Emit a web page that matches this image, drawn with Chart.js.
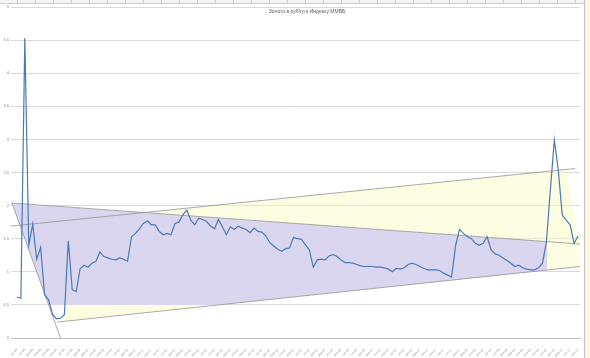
<!DOCTYPE html>
<html>
<head>
<meta charset="utf-8">
<script src="https://cdn.jsdelivr.net/npm/chart.js@4.4.1/dist/chart.umd.min.js"></script>
<style>
html,body{margin:0;padding:0;background:#fff;}
#wrap{position:relative;width:590px;height:358px;overflow:hidden;background:#fff;}
canvas{position:absolute;left:0;top:0;}
#topbar{position:absolute;left:0;top:0;width:590px;height:3px;background:#f4f4f4;border-bottom:1px solid #cfcfcf;
  background-image:repeating-linear-gradient(90deg,transparent 0 17px,#c9c9c9 17px 18px);}
#rightbar{position:absolute;left:584px;top:0;width:6px;height:358px;background:#fbf6dc;border-left:1px solid #c4c4c4;}
</style>
</head>
<body>
<div id="wrap">
<canvas id="c" width="590" height="358"></canvas>
<div id="topbar"></div>
<div id="rightbar"></div>
</div>
<script>
// ---- data ----
const chartTitle = 'Золото в руб/гр к Индексу ММВБ';
const monthNames = ['янв','фев','мар','апр','май','июн','июл','авг','сен','окт','ноя','дек'];
const startYear = 1998, startMonth = 6; // first category: июл.98
const ratio = [
  0.62,0.60,4.53,1.40,1.72,1.19,1.37,0.65,0.58,0.36,
  0.29,0.30,0.35,1.47,0.73,0.70,1.05,1.10,1.07,1.13,
  1.16,1.30,1.23,1.21,1.19,1.18,1.21,1.19,1.16,1.53,
  1.58,1.65,1.73,1.77,1.71,1.71,1.61,1.56,1.58,1.56,
  1.73,1.75,1.86,1.93,1.78,1.71,1.81,1.79,1.76,1.69,
  1.65,1.79,1.68,1.56,1.68,1.64,1.69,1.66,1.64,1.59,
  1.66,1.61,1.60,1.54,1.44,1.39,1.34,1.31,1.35,1.36,
  1.52,1.50,1.49,1.41,1.33,1.07,1.18,1.19,1.18,1.24,
  1.26,1.23,1.18,1.14,1.14,1.13,1.11,1.09,1.08,1.08,
  1.08,1.07,1.07,1.06,1.04,1.00,1.05,1.04,1.06,1.11,
  1.13,1.11,1.08,1.05,1.03,1.03,1.03,1.02,0.98,0.95,
  0.92,1.39,1.64,1.58,1.53,1.50,1.43,1.40,1.43,1.53,
  1.33,1.27,1.25,1.21,1.17,1.13,1.08,1.10,1.06,1.04,
  1.03,1.03,1.06,1.13,1.45,2.24,2.99,2.54,1.86,1.78,
  1.71,1.43,1.54
];
// trend lines drawn by hand on the original (x = category index)
const upperTrend    = [{x:-0.5,y:1.69},{x:142.25,y:2.56}];
const channelTop    = [{x:-0.5,y:2.04},{x:143.5,y:1.42}];
const channelBottom = [{x:11.14,y:0.24},{x:143.5,y:1.08}];
const steepLine     = [{x:-0.25,y:2.04},{x:12.03,y:0}];
// shaded zones
const purpleZone = [{x:-0.25,y:2.036},{x:135.16,y:1.456},{x:135.16,y:1.024},{x:51.74,y:0.5},{x:9.04,y:0.5}];
const yellowLow  = [{x:13.17,y:0.5},{x:51.74,y:0.5},{x:13.17,y:0.254}];
const yellowHigh = [{x:32.76,y:1.894},{x:139.97,y:2.549},{x:141.5,y:2.006},{x:143.5,y:1.420},{x:143.5,y:1.077},{x:135.16,y:1.024},{x:135.16,y:1.456}];

const categories = [];
for (let i = 0; i < ratio.length + 1; i++) {
  const t = startMonth + i;
  const y = startYear + Math.floor(t / 12);
  categories.push(monthNames[t % 12] + '.' + String(y % 100).padStart(2, '0'));
}
const lineValues = [null].concat(ratio);

const titlePlugin = {
  id: 'overlayTitle',
  afterDatasetsDraw(chart) {
    const c = chart.ctx;
    c.save();
    c.font = '5px "Liberation Sans", Arial, sans-serif';
    c.fillStyle = '#595959';
    c.textAlign = 'center';
    c.textBaseline = 'middle';
    c.fillText(chartTitle, 307, 12);
    c.restore();
  }
};

const trendStyle = {xAxisID:'x2', borderColor:'#8f8f8f', borderWidth:0.75, pointRadius:0, fill:false, tension:0};
const zoneStyle = {xAxisID:'x2', borderWidth:0, borderColor:'rgba(0,0,0,0)', pointRadius:0, tension:0, fill:'shape'};

new Chart(document.getElementById('c').getContext('2d'), {
  type: 'line',
  data: {
    labels: categories,
    datasets: [
      {label:'ratio', data:lineValues, xAxisID:'x', borderColor:'#4a7ab5', borderWidth:1.2, pointRadius:0, fill:false, tension:0},
      Object.assign({data:upperTrend}, trendStyle),
      Object.assign({data:channelTop}, trendStyle),
      Object.assign({data:channelBottom}, trendStyle),
      Object.assign({data:steepLine}, trendStyle),
      Object.assign({data:purpleZone, backgroundColor:'#dbd6ef'}, zoneStyle),
      Object.assign({data:yellowLow, backgroundColor:'rgba(250,250,190,0.45)'}, zoneStyle),
      Object.assign({data:yellowHigh, backgroundColor:'rgba(250,250,190,0.45)'}, zoneStyle)
    ]
  },
  options: {
    responsive: false,
    animation: false,
    devicePixelRatio: 1,
    layout: {padding: {top: 7, right: 10, bottom: 0, left: 2}},
    plugins: {legend: {display: false}, tooltip: {enabled: false}, title: {display: false}},
    scales: {
      x: {
        type: 'category', offset: true,
        grid: {display: false},
        border: {color: '#bfbfbf'},
        ticks: {font: {size: 3, family: '"Liberation Sans", Arial'}, color: '#999999', maxRotation: 45, minRotation: 45, autoSkip: false, padding: 2,
                callback: function(v, i) { return i % 2 === 1 ? this.getLabelForValue(v) : ''; }},
        afterFit(s) { s.height = 20; }
      },
      x2: {type: 'linear', display: false, min: -0.5, max: 143.5},
      y: {
        min: 0, max: 5,
        ticks: {stepSize: 0.5, font: {size: 4, family: '"Liberation Sans", Arial'}, color: '#7f7f7f', padding: 2,
                callback: v => String(v).replace('.', ',')},
        grid: {color: '#d9d9d9', drawTicks: false},
        border: {display: false},
        afterFit(s) { s.width = 9; }
      }
    }
  },
  plugins: [titlePlugin]
});
</script>
</body>
</html>
